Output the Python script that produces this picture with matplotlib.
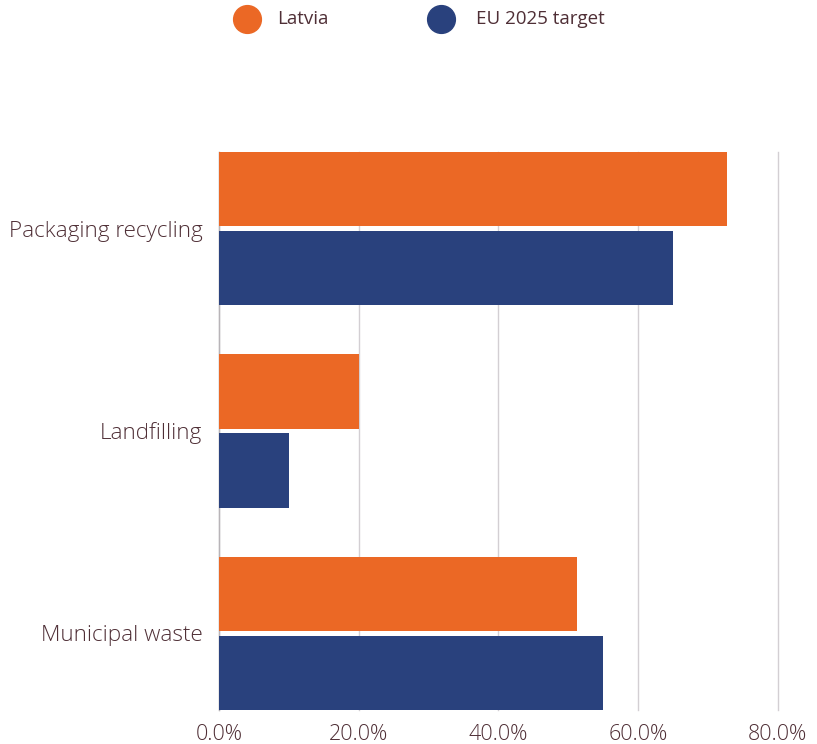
import matplotlib.pyplot as plt
from matplotlib.ticker import FuncFormatter
from matplotlib.lines import Line2D

categories = ['Packaging recycling', 'Landfilling', 'Municipal waste']
latvia = [72.7, 20.0, 51.3]
eu_target = [65.0, 10.0, 55.0]
series_names = ['Latvia', 'EU 2025 target']
xticks = [0, 20, 40, 60, 80]

orange = '#eb6825'
navy = '#29417d'
txt = '#4f2f36'

plt.rcParams['font.family'] = ['Open Sans', 'DejaVu Sans']

fig = plt.figure(figsize=(8.17, 7.44), dpi=100)
ax = fig.add_axes([0.268, 0.0457, 0.684, 0.75])

pos = range(len(categories))
h = 0.366
off = 0.195
ax.barh([p - off for p in pos], latvia, height=h, color=orange, zorder=3)
ax.barh([p + off for p in pos], eu_target, height=h, color=navy, zorder=3)

ax.set_ylim(2.378, -0.378)
ax.set_xlim(0, 80)
ax.set_xticks(xticks)
ax.xaxis.set_major_formatter(FuncFormatter(lambda v, _: f'{v:.1f}%'))
ax.set_yticks(list(pos))
ax.set_yticklabels(categories)
ax.tick_params(axis='both', length=0, labelsize=15.5, labelcolor=txt)
ax.tick_params(axis='y', pad=12, labelsize=16.2)
ax.tick_params(axis='x', pad=10)
for lab in ax.get_xticklabels() + ax.get_yticklabels():
    lab.set_fontweight('light')

ax.grid(axis='x', color='#d3cfd3', linewidth=1, zorder=0)
for gl in ax.get_xgridlines():
    gl.set_clip_on(False)
for s in ['top', 'right', 'bottom']:
    ax.spines[s].set_visible(False)
ax.spines['left'].set_color('#b8b4b8')
ax.spines['left'].set_linewidth(1)

# legend drawn by hand at the top
W, H = 817, 744
for name, col, cx, tx in zip(series_names, (orange, navy), (247, 441), (277, 476)):
    fig.add_artist(Line2D([cx / W], [1 - 19 / H], transform=fig.transFigure,
                          marker='o', markersize=20, color=col, linestyle=''))
    fig.text(tx / W, 1 - 19 / H, name, ha='left', va='center',
             fontsize=13.5, color=txt, family=['Open Sans', 'DejaVu Sans'])

fig.savefig('out.png', dpi=100)
